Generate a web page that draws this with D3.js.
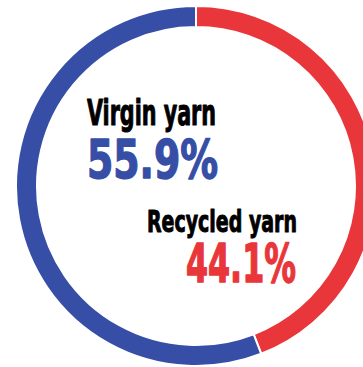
<!DOCTYPE html>
<html><head><meta charset="utf-8">
<script src="https://cdn.jsdelivr.net/npm/d3@7"></script>
<style>html,body{margin:0;padding:0;background:#fff;overflow:hidden}</style>
</head><body>
<svg id="c" width="363" height="367"></svg>
<script>
const categories = ["Recycled yarn", "Virgin yarn"];
const values = [44.1, 55.9];
const valueLabels = ["44.1%", "55.9%"];
const colors = ["#e8363a", "#364ea5"];

const svg = d3.select("#c");
const cx = 196, cy = 186, rOuter = 180, rInner = 159;
const pie = d3.pie().sort(null).value(d => d)(values);
const arc = d3.arc().innerRadius(rInner).outerRadius(rOuter);
const g = svg.append("g").attr("transform", `translate(${cx},${cy})`);
g.selectAll("path").data(pie).join("path")
  .attr("d", arc)
  .attr("fill", (d, i) => colors[i])
  .attr("stroke", "#fff").attr("stroke-width", 2);

const font = "'Liberation Sans Narrow','DejaVu Sans Condensed','Liberation Sans',sans-serif";
function label(text, x, y, size, fill, anchor, len, sw) {
  svg.append("text").text(text)
    .attr("x", x).attr("y", y)
    .attr("font-family", font).attr("font-weight", "bold")
    .attr("font-size", size).attr("fill", fill)
    .attr("stroke", fill).attr("stroke-width", sw)
    .attr("stroke-linejoin", "round")
    .attr("text-anchor", anchor)
    .attr("textLength", len).attr("lengthAdjust", "spacingAndGlyphs");
}
// Virgin yarn (index 1)
label(categories[1], 87, 125, 36, "#000", "start", 129, 1);
label(valueLabels[1], 87, 178, 54, colors[1], "start", 131, 1.4);
// Recycled yarn (index 0)
label(categories[0], 297, 232, 31, "#000", "end", 150, 1);
label(valueLabels[0], 296, 282, 54, colors[0], "end", 110, 1.4);
</script>
</body></html>
